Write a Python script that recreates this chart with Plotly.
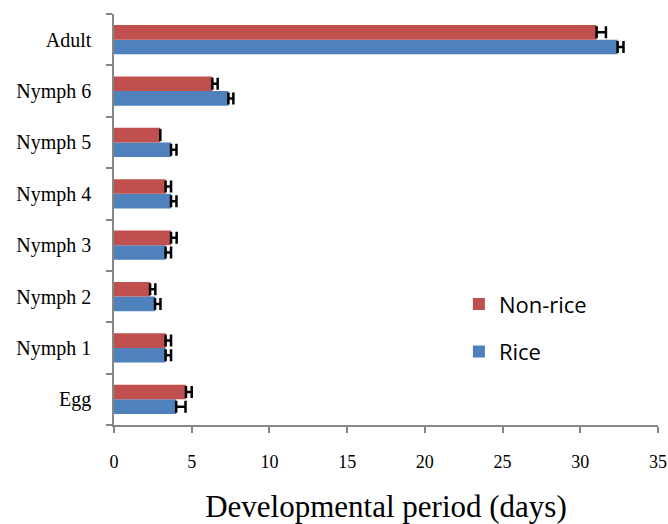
import plotly.graph_objects as go

stages = ["Egg", "Nymph 1", "Nymph 2", "Nymph 3", "Nymph 4", "Nymph 5", "Nymph 6", "Adult"]
rice = [4.0, 3.32, 2.64, 3.32, 3.67, 3.67, 7.36, 32.4]
rice_err = [0.6, 0.35, 0.35, 0.35, 0.35, 0.35, 0.32, 0.38]
nonrice = [4.63, 3.32, 2.32, 3.67, 3.32, 2.98, 6.33, 31.05]
nonrice_err = [0.37, 0.35, 0.34, 0.36, 0.35, None, 0.34, 0.6]
x_ticks = [0, 5, 10, 15, 20, 25, 30, 35]

fig = go.Figure()
fig.add_trace(go.Bar(
    y=stages, x=rice, orientation="h", name="Rice",
    marker=dict(color="#4F81BD", line=dict(width=0)),
    error_x=dict(type="data", symmetric=False, array=rice_err,
                 arrayminus=[0] * len(rice_err), color="black", thickness=2.5, width=6),
    legendgroup="r", legendrank=2,
))
fig.add_trace(go.Bar(
    y=stages, x=nonrice, orientation="h", name="Non-rice",
    marker=dict(color="#C0504D", line=dict(width=0)),
    error_x=dict(type="data", symmetric=False, array=nonrice_err,
                 arrayminus=[0] * len(nonrice_err), color="black", thickness=2.5, width=6),
    legendgroup="n", legendrank=1,
))

fig.update_layout(
    width=668, height=524,
    margin=dict(l=114, r=10, t=14, b=99, autoexpand=False),
    paper_bgcolor="white", plot_bgcolor="white",
    barmode="group", bargap=0.43, bargroupgap=0.0,
    showlegend=True,
    legend=dict(x=0.634, y=0.345, xanchor="left", yanchor="top",
                font=dict(family="Open Sans", size=22, color="black"),
                tracegroupgap=16, bgcolor="rgba(0,0,0,0)"),
    xaxis=dict(
        range=[0, 35], tickvals=x_ticks, ticktext=[str(v) for v in x_ticks],
        showgrid=False, zeroline=False, automargin=False,
        showline=True, linecolor="#868686", linewidth=1.5,
        ticks="outside", ticklen=6, tickcolor="#868686", tickwidth=1.5,
        tickfont=dict(family="Liberation Serif", size=18, color="black"),
        ticklabelstandoff=14,
        title=dict(text="Developmental period (days)",
                   font=dict(family="Liberation Serif", size=31, color="black"),
                   standoff=25),
    ),
    yaxis=dict(
        type="category", categoryorder="array", categoryarray=stages,
        showgrid=False, zeroline=False, automargin=False,
        showline=True, linecolor="#868686", linewidth=1.5,
        ticks="outside", tickson="boundaries", ticklen=6, tickcolor="#868686", tickwidth=1.5,
        tickfont=dict(family="Liberation Serif", size=20, color="black"),
        ticklabelstandoff=17,
    ),
)

fig.write_html("out.html", config={"displayModeBar": False},
               post_script="document.body.style.margin='0px';")
